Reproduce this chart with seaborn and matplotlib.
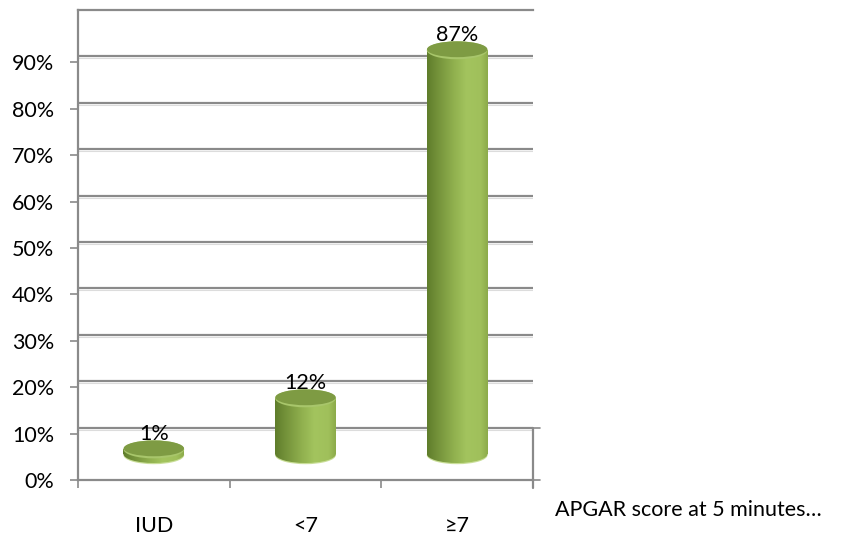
import numpy as np
import matplotlib
matplotlib.use("Agg")
import matplotlib.pyplot as plt
import seaborn as sns
import pandas as pd
from matplotlib.patches import Ellipse
from matplotlib.colors import LinearSegmentedColormap
from matplotlib.ticker import PercentFormatter

# --- data -------------------------------------------------------------
categories = ["IUD", "<7", "≥7"]
shares = [1, 12, 87]                      # percent of newborns
yticks = list(range(0, 100, 10))
series_name = "APGAR score at 5 minutes…"

sns.set_theme(style="white")
plt.rcParams["font.family"] = ["Lato", "DejaVu Sans"]

W, H = 853, 537
fig = plt.figure(figsize=(W / 100, H / 100), dpi=100)
rect = [78 / W, 1 - 480 / H, (533 - 78) / W, (480 - 10) / H]
ax = fig.add_axes(rect)
ax_bars = fig.add_axes(rect, frameon=False)

WALL_SHIFT = 1.28          # back wall sits slightly above the front axis
TOP = 100 + WALL_SHIFT
PX = 470 / TOP             # pixels per percentage point
FLOOR = 26 / PX            # cylinders stand in the middle of the floor
CAT_PX = (533 - 78) / 3

GRID = "#8a8a8a"
FS = 15.5

# --- walls, grid and axes --------------------------------------------
ax.set_xlim(-0.5, 2.5)
ax.set_ylim(0, TOP)
for v in yticks[1:]:
    ax.axhline(v + WALL_SHIFT, color=GRID, lw=1.6, zorder=1)
    ax.axhline(v + WALL_SHIFT - 2 / PX, color="#dcdcdc", lw=0.8, zorder=0.9)

for side in ("left", "top", "bottom"):
    ax.spines[side].set_color(GRID)
    ax.spines[side].set_linewidth(1.6)
ax.spines["right"].set_visible(False)

ax.set_yticks(yticks)
ax.yaxis.set_major_formatter(PercentFormatter(100, decimals=0))
ax.tick_params(axis="y", left=True, length=6, width=1.2, color=GRID,
               pad=11, labelsize=FS, labelcolor="black")

ax.set_xticks(range(len(categories)))
ax.set_xticklabels(categories)
ax.set_xticks([-0.5, 0.5, 1.5, 2.5], minor=True)
ax.tick_params(axis="x", which="major", length=0, pad=26,
               labelsize=FS, labelcolor="black")
ax.tick_params(axis="x", which="minor", bottom=True, length=6,
               width=1.2, color=GRID)

# depth-axis edge on the right of the floor
tick_w = 7 / CAT_PX
ax.plot([2.5, 2.5], [-8 / PX, 10 + WALL_SHIFT], color=GRID, lw=1.6,
        clip_on=False, zorder=1)
for yv in (0, 10 + WALL_SHIFT):
    ax.plot([2.5, 2.5 + tick_w], [yv, yv], color=GRID, lw=1.2,
            clip_on=False, zorder=1)

# --- cylinders --------------------------------------------------------
df = pd.DataFrame({"category": categories, "share": shares})
sns.barplot(data=df, x="category", y="share", ax=ax_bars, width=0.4,
            color="#8eae4c", saturation=1, zorder=2)

cyl_cmap = LinearSegmentedColormap.from_list(
    "cyl", [(0.0, "#5f7d2b"), (0.15, "#718f38"), (0.45, "#91b14f"),
            (0.65, "#a3c45e"), (0.88, "#a0c05b"), (1.0, "#8cab4a")])
grad = np.linspace(0, 1, 256)[None, :]
EH = 18 / PX               # ellipse height in data units

for patch in ax_bars.patches:
    x0, w, h = patch.get_x(), patch.get_width(), patch.get_height()
    xc = x0 + w / 2
    patch.set_edgecolor("none")
    # light rim under the base
    ax_bars.add_patch(Ellipse((xc, -1.2 / PX), w, EH, color="#c9de98",
                              lw=0, zorder=1.8))
    base = Ellipse((xc, 0), w, EH, transform=ax_bars.transData)
    for clip in (patch, base):
        im = ax_bars.imshow(grad, cmap=cyl_cmap, aspect="auto",
                            extent=[x0, x0 + w, -EH, h], zorder=2.2,
                            interpolation="bilinear")
        im.set_clip_path(clip)
    # top cap with a lighter front rim
    ax_bars.add_patch(Ellipse((xc, h), w, EH, color="#a8c66b", lw=0,
                              zorder=3))
    ax_bars.add_patch(Ellipse((xc, h + 1.0 / PX), w * 0.995, EH - 2.2 / PX,
                              color="#7e9b43", lw=0, zorder=3.1))

ax_bars.bar_label(ax_bars.containers[0], labels=[f"{v}%" for v in shares],
                  padding=4, fontsize=FS, color="black", zorder=5)
ax_bars.set_xlim(-0.5, 2.5)
ax_bars.set_ylim(-FLOOR, TOP - FLOOR)
ax_bars.set_axis_off()

fig.text(555 / W, 1 - 510 / H, series_name, ha="left", va="center",
         fontsize=FS, color="black")

fig.savefig("out.png", dpi=100, facecolor="white")
